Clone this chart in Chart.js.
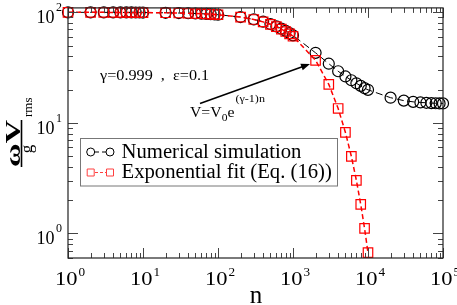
<!DOCTYPE html>
<html><head><meta charset="utf-8">
<script src="https://cdn.jsdelivr.net/npm/chart.js@4"></script>
<style>html,body{margin:0;padding:0;background:#fff;overflow:hidden}#wrap{width:457px;height:305px;position:relative}</style>
</head><body><div id="wrap"><canvas id="c" width="457" height="305"></canvas></div>
<script>
// ---- data ----
const simN = [1,2,3,4,5,6,7,8,9,10,20,30,40,50,60,70,80,90,100,200,300,400,500,600,700,800,900,1000,2000,3000,4000,5000,6000,7000,8000,9000,10000,20000,30000,40000,50000,60000,70000,80000,90000,100000];
const simValues = [99.95,99.9,99.85,99.8,99.75,99.7,99.65,99.6,99.55,99.5,99.0,98.5,98.0,97.5,97.0,96.6,96.1,95.6,95.1,90.6,86.3,82.2,78.3,74.6,71.2,67.9,64.8,61.9,43.0,34.3,29.3,26.3,24.3,22.8,21.6,20.6,19.9,16.9,15.9,15.5,15.3,15.2,15.1,15.05,15.0,15.0];
const fitN = [1,2,3,4,5,6,7,8,9,10,20,30,40,50,60,70,80,90,100,200,300,400,500,600,700,800,900,1000,2000,3000,4000,5000,6000,7000,8000,9000,10000];
const fitValues = [99.95,99.9,99.85,99.8,99.75,99.7,99.65,99.6,99.55,99.5,99.0,98.5,98.0,97.5,97.0,96.6,96.1,95.6,95.1,90.5,86.1,81.9,77.9,74.1,70.5,67.0,63.8,60.7,36.8,22.3,13.5,8.2,4.98,3.02,1.83,1.11,0.67];
const seriesNames = ['Numerical simulation','Exponential fit (Eq. (16))'];
const xTickValues = [1,10,100,1000,10000,100000];
const xTickExps = ['0','1','2','3','4','5'];
const yTickValues = [1,10,100];
const yTickExps = ['0','1','2'];
const paramText = 'γ=0.999  ,  ε=0.1';
const xTitle = 'n';

const SERIF = '"Liberation Serif","Times New Roman",serif';

function stretchedText(ctx, txt, x, y, font, sx, align) {
  ctx.save();
  ctx.font = font;
  const w = ctx.measureText(txt).width * sx;
  let x0 = x;
  if (align === 'center') x0 = x - w / 2; else if (align === 'right') x0 = x - w;
  ctx.translate(x0, y);
  ctx.scale(sx, 1);
  ctx.textAlign = 'left';
  ctx.textBaseline = 'alphabetic';
  ctx.fillText(txt, 0, 0);
  ctx.restore();
  return w;
}

const decor = {
  id: 'decor',
  afterDatasetsDraw(chart) {
    const ctx = chart.ctx;
    const a = chart.chartArea;
    const xs = chart.scales.x, ys = chart.scales.y;
    ctx.save();
    // ticks
    ctx.strokeStyle = '#444';
    ctx.lineWidth = 1;
    ctx.beginPath();
    for (let d = 0; d <= 5; d++) {
      for (let m = 1; m <= 9; m++) {
        const v = m * Math.pow(10, d);
        if (v < xs.min || v > xs.max) continue;
        const px = Math.round(xs.getPixelForValue(v)) + 0.5;
        const len = m === 1 ? 10 : 5;
        ctx.moveTo(px, a.bottom); ctx.lineTo(px, a.bottom - len);
        ctx.moveTo(px, a.top); ctx.lineTo(px, a.top + len);
      }
    }
    for (let d = -1; d <= 2; d++) {
      for (let m = 1; m <= 9; m++) {
        const v = m * Math.pow(10, d);
        if (v < ys.min || v > ys.max) continue;
        const py = Math.round(ys.getPixelForValue(v)) + 0.5;
        const len = m === 1 ? 10 : 5;
        ctx.moveTo(a.left, py); ctx.lineTo(a.left + len, py);
        ctx.moveTo(a.right, py); ctx.lineTo(a.right - len, py);
      }
    }
    ctx.stroke();
    // frame
    ctx.strokeStyle = '#222';
    ctx.lineWidth = 1.2;
    ctx.strokeRect(a.left, a.top, a.right - a.left, a.bottom - a.top);
    ctx.restore();
  },
  afterDraw(chart) {
    const ctx = chart.ctx;
    const a = chart.chartArea;
    const xs = chart.scales.x, ys = chart.scales.y;
    ctx.save();
    ctx.fillStyle = '#000';
    // x tick labels
    xTickValues.forEach((v, i) => {
      const px = xs.getPixelForValue(v);
      const w = stretchedText(ctx, '10', px - 13, 285, '18px ' + SERIF, 1.25, 'left');
      stretchedText(ctx, xTickExps[i], px - 13 + w + 1, 276, '12px ' + SERIF, 1.1, 'left');
    });
    // y tick labels
    yTickValues.forEach((v, i) => {
      const py = ys.getPixelForValue(v);
      stretchedText(ctx, '10', 54.5, py + 11, '18px ' + SERIF, 1.0, 'right');
      stretchedText(ctx, yTickExps[i], 56, py - 1, '12px ' + SERIF, 1.0, 'left');
    });
    // x title
    ctx.font = '25px ' + SERIF;
    ctx.textAlign = 'center';
    ctx.textBaseline = 'alphabetic';
    ctx.fillText(xTitle, (a.left + a.right) / 2 + 0.5, 303);
    // y title (rotated fraction)
    ctx.save();
    ctx.rotate(-Math.PI / 2);
    ctx.textAlign = 'left';
    ctx.save();
    ctx.font = 'bold 20px ' + SERIF;
    const wn = ctx.measureText('ωV').width;
    const sN = 47 / wn;
    ctx.translate(-167, 19.5);
    ctx.scale(sN, 1);
    ctx.fillText('ωV', 0, 0);
    ctx.restore();
    ctx.strokeStyle = '#000';
    ctx.lineWidth = 1.6;
    ctx.beginPath();
    ctx.moveTo(-167, 21.5); ctx.lineTo(-120, 21.5);
    ctx.stroke();
    ctx.font = '17px ' + SERIF;
    ctx.textAlign = 'center';
    ctx.fillText('g', -149, 32);
    ctx.font = '13px ' + SERIF;
    ctx.textAlign = 'left';
    ctx.fillText('rms', -117, 32);
    ctx.restore();
    // parameters text
    stretchedText(ctx, paramText, 100, 79.5, '15px ' + SERIF, 1.08, 'left');
    // formula
    let x = 190;
    x += stretchedText(ctx, 'V=V', x, 117, '15px ' + SERIF, 1.05, 'left');
    x += stretchedText(ctx, '0', x, 121, '11px ' + SERIF, 1.05, 'left');
    x += stretchedText(ctx, 'e', x, 117, '15px ' + SERIF, 1.05, 'left');
    stretchedText(ctx, '(γ-1)n', x + 1, 102, '11px ' + SERIF, 1.1, 'left');
    // arrow
    const x1 = 200, y1 = 103.5, x2 = 310, y2 = 64;
    ctx.strokeStyle = '#000';
    ctx.lineWidth = 1.5;
    const ang = Math.atan2(y2 - y1, x2 - x1);
    ctx.beginPath();
    ctx.moveTo(x1, y1);
    ctx.lineTo(x2 - 6 * Math.cos(ang), y2 - 6 * Math.sin(ang));
    ctx.stroke();
    ctx.beginPath();
    ctx.moveTo(x2, y2);
    ctx.lineTo(x2 - 9 * Math.cos(ang) + 3.5 * Math.sin(ang), y2 - 9 * Math.sin(ang) - 3.5 * Math.cos(ang));
    ctx.lineTo(x2 - 9 * Math.cos(ang) - 3.5 * Math.sin(ang), y2 - 9 * Math.sin(ang) + 3.5 * Math.cos(ang));
    ctx.closePath();
    ctx.fillStyle = '#000';
    ctx.fill();
    // legend
    ctx.fillStyle = '#fff';
    ctx.fillRect(80.5, 138.5, 257, 47.5);
    ctx.strokeStyle = '#777';
    ctx.lineWidth = 1;
    ctx.strokeRect(80.5, 138.5, 257, 47.5);
    const rows = [
      {y: 152, color: '#000', dash: [4, 3], shape: 'circle'},
      {y: 172.5, color: '#ff4040', dash: [3, 2], shape: 'rect'}
    ];
    rows.forEach((r, i) => {
      ctx.strokeStyle = r.color;
      ctx.lineWidth = 1;
      ctx.setLineDash(r.dash);
      ctx.beginPath();
      ctx.moveTo(95, r.y); ctx.lineTo(106, r.y);
      ctx.stroke();
      ctx.setLineDash([]);
      [90.7, 110].forEach(cx => {
        ctx.beginPath();
        if (r.shape === 'circle') ctx.arc(cx, r.y, 4, 0, Math.PI * 2);
        else ctx.rect(cx - 3.5, r.y - 3.5, 7, 7);
        ctx.stroke();
      });
      ctx.fillStyle = '#000';
      stretchedText(ctx, seriesNames[i], 121.5, r.y + 5.5, '20px ' + SERIF, 1.035, 'left');
    });
    ctx.restore();
  }
};

new Chart(document.getElementById('c'), {
  type: 'line',
  data: {
    datasets: [
      {
        label: seriesNames[0],
        data: simN.map((n, i) => ({x: n, y: simValues[i]})),
        borderColor: '#000',
        borderWidth: 1,
        borderDash: [7, 4],
        pointStyle: 'circle',
        pointRadius: 5.5,
        pointBorderWidth: 1.2,
        pointBorderColor: '#000',
        pointBackgroundColor: 'rgba(0,0,0,0)',
        tension: 0,
        clip: false,
        order: 2
      },
      {
        label: seriesNames[1],
        data: fitN.map((n, i) => ({x: n, y: fitValues[i]})),
        borderColor: '#ff0000',
        borderWidth: 1.5,
        borderDash: [5, 3],
        pointStyle: 'rect',
        pointRadius: 6.7,
        pointBorderWidth: 1.2,
        pointBorderColor: '#ff0000',
        pointBackgroundColor: 'rgba(0,0,0,0)',
        tension: 0,
        clip: false,
        order: 1
      }
    ]
  },
  options: {
    responsive: false,
    animation: false,
    devicePixelRatio: 1,
    layout: {padding: {left: 68, right: 14, top: 6, bottom: 47}},
    scales: {
      x: {type: 'logarithmic', min: 1, max: 100000, display: false},
      y: {type: 'logarithmic', min: 0.645, max: 109.6, display: false}
    },
    plugins: {legend: {display: false}, tooltip: {enabled: false}}
  },
  plugins: [decor]
});
</script>
</body></html>
